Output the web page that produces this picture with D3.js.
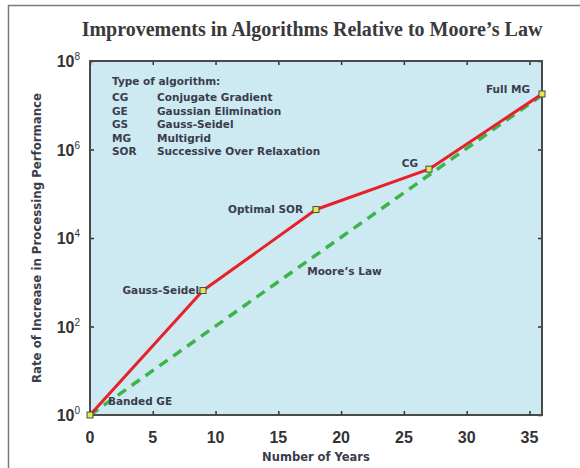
<!DOCTYPE html>
<html>
<head>
<meta charset="utf-8">
<script src="https://cdn.jsdelivr.net/npm/d3@7"></script>
<style>
  body { margin: 0; background: #fff; }
  svg { display: block; }
</style>
</head>
<body>
<div id="chart"></div>
<script>
// data
const years = [0, 9, 18, 27, 36];
const algoValues = [1, 650, 44000, 360000, 18000000];
const algoLabels = ["Banded GE", "Gauss-Seidel", "Optimal SOR", "CG", "Full MG"];
const mooreYears = [0, 36];
const mooreValues = [1, 17000000];
const xTicks = [0, 5, 10, 15, 20, 25, 30, 35];
const yTicks = [1, 1e2, 1e4, 1e6, 1e8];
const legendAbbr = ["CG", "GE", "GS", "MG", "SOR"];
const legendNames = ["Conjugate Gradient", "Gaussian Elimination", "Gauss-Seidel", "Multigrid", "Successive Over Relaxation"];

const width = 580, height = 468;
const margin = { top: 61, right: 38, bottom: 53, left: 90 };
const iw = width - margin.left - margin.right;
const ih = height - margin.top - margin.bottom;
const labelFont = "'DejaVu Sans', sans-serif";
const textCol = "#3a3d4c";

const svg = d3.select("#chart").append("svg")
  .attr("width", width)
  .attr("height", height);

// outer box of the figure
svg.append("path")
  .attr("d", "M8.5,468 L8.5,5.5 L580,5.5")
  .attr("fill", "none")
  .attr("stroke", "#7a7a7a")
  .attr("stroke-width", 1.5);

svg.append("text")
  .attr("x", 312)
  .attr("y", 36)
  .attr("text-anchor", "middle")
  .attr("font-family", "'Liberation Serif', serif")
  .attr("font-weight", "bold")
  .attr("font-size", 20)
  .attr("fill", "#3a3a3a")
  .text("Improvements in Algorithms Relative to Moore\u2019s Law");

const g = svg.append("g").attr("transform", `translate(${margin.left},${margin.top})`);

const x = d3.scaleLinear().domain([0, 36]).range([0, iw]);
const y = d3.scaleLog().domain([1, 1e8]).range([ih, 0]);

g.append("rect")
  .attr("width", iw)
  .attr("height", ih)
  .attr("fill", "#cde9f2");

// inward ticks on all four sides
const tickLen = 4;
g.append("g").attr("transform", `translate(0,${ih})`)
  .call(d3.axisBottom(x).tickValues(xTicks).tickSizeInner(-tickLen).tickSizeOuter(0).tickFormat(""));
g.append("g")
  .call(d3.axisTop(x).tickValues(xTicks).tickSizeInner(-tickLen).tickSizeOuter(0).tickFormat(""));
g.append("g")
  .call(d3.axisLeft(y).tickValues(yTicks).tickSizeInner(-tickLen).tickSizeOuter(0).tickFormat(""));
g.append("g").attr("transform", `translate(${iw},0)`)
  .call(d3.axisRight(y).tickValues(yTicks).tickSizeInner(-tickLen).tickSizeOuter(0).tickFormat(""));
g.selectAll(".domain").remove();
g.selectAll(".tick line").attr("stroke", "#333").attr("stroke-width", 1.5);

g.append("rect")
  .attr("width", iw)
  .attr("height", ih)
  .attr("fill", "none")
  .attr("stroke", "#4a4a4a")
  .attr("stroke-width", 2);

// tick labels
g.selectAll(".xlab")
  .data(xTicks)
  .enter()
  .append("text")
  .attr("x", (d) => x(d))
  .attr("y", ih + 28)
  .attr("text-anchor", "middle")
  .attr("font-family", "'Liberation Sans', Arial, sans-serif")
  .attr("font-weight", "bold")
  .attr("font-size", 16)
  .attr("fill", "#333")
  .text((d) => d);

const ylab = g.selectAll(".ylab")
  .data(yTicks)
  .enter()
  .append("text")
  .attr("x", -10)
  .attr("y", (d) => y(d) + 6)
  .attr("text-anchor", "end")
  .attr("font-family", "'Liberation Sans', Arial, sans-serif")
  .attr("font-weight", "bold")
  .attr("font-size", 16)
  .attr("fill", "#333");
ylab.append("tspan").text("10");
ylab.append("tspan")
  .attr("dy", -7)
  .attr("font-size", 10)
  .attr("font-weight", "normal")
  .text((d) => Math.round(Math.log10(d)));

// axis titles
svg.append("text")
  .attr("x", 316)
  .attr("y", 461)
  .attr("text-anchor", "middle")
  .attr("font-family", labelFont)
  .attr("font-weight", "bold")
  .attr("font-size", 11.5)
  .attr("fill", textCol)
  .text("Number of Years");

svg.append("text")
  .attr("transform", "translate(41,238) rotate(-90)")
  .attr("text-anchor", "middle")
  .attr("font-family", labelFont)
  .attr("font-weight", "bold")
  .attr("font-size", 11.5)
  .attr("textLength", 290)
  .attr("lengthAdjust", "spacingAndGlyphs")
  .attr("fill", textCol)
  .text("Rate of Increase in Processing Performance");

// legend text block
g.append("text")
  .attr("x", 22)
  .attr("y", 24)
  .attr("font-family", labelFont)
  .attr("font-weight", "bold")
  .attr("font-size", 10.5)
  .attr("fill", textCol)
  .text("Type of algorithm:");

legendAbbr.forEach((a, i) => {
  g.append("text")
    .attr("x", 22)
    .attr("y", 40 + i * 13.5)
    .attr("font-family", labelFont)
    .attr("font-weight", "bold")
    .attr("font-size", 10.5)
    .attr("fill", textCol)
    .text(a);
  g.append("text")
    .attr("x", 67)
    .attr("y", 40 + i * 13.5)
    .attr("font-family", labelFont)
    .attr("font-weight", "bold")
    .attr("font-size", 10.5)
    .attr("fill", textCol)
    .text(legendNames[i]);
});

// Moore's law, dashed
const mooreLine = d3.line()
  .x((d, i) => x(mooreYears[i]))
  .y((d) => y(d));

g.append("path")
  .attr("d", mooreLine(mooreValues))
  .attr("fill", "none")
  .attr("stroke", "#3bb54a")
  .attr("stroke-width", 3.5)
  .attr("stroke-dasharray", "10,7");

// algorithm curve
const algoLine = d3.line()
  .x((d, i) => x(years[i]))
  .y((d) => y(d));

g.append("path")
  .attr("d", algoLine(algoValues))
  .attr("fill", "none")
  .attr("stroke", "#e8202a")
  .attr("stroke-width", 3)
  .attr("stroke-linejoin", "round");

g.selectAll(".marker")
  .data(algoValues)
  .enter()
  .append("rect")
  .attr("x", (d, i) => x(years[i]) - 3)
  .attr("y", (d) => y(d) - 3)
  .attr("width", 6)
  .attr("height", 6)
  .attr("fill", "#e4e84a")
  .attr("stroke", "#4a4a4a")
  .attr("stroke-width", 1);

// point labels
const labelPos = [
  { dx: 18, dy: -10, anchor: "start" },
  { dx: -4, dy: 3, anchor: "end" },
  { dx: -13, dy: 3, anchor: "end" },
  { dx: -11, dy: -2, anchor: "end" },
  { dx: -12, dy: -1, anchor: "end" }
];
g.selectAll(".plab")
  .data(algoLabels)
  .enter()
  .append("text")
  .attr("x", (d, i) => x(years[i]) + labelPos[i].dx)
  .attr("y", (d, i) => y(algoValues[i]) + labelPos[i].dy)
  .attr("text-anchor", (d, i) => labelPos[i].anchor)
  .attr("font-family", labelFont)
  .attr("font-weight", "bold")
  .attr("font-size", 10.5)
  .attr("fill", textCol)
  .text((d) => d);

g.append("text")
  .attr("x", x(17.3))
  .attr("y", y(1450))
  .attr("font-family", labelFont)
  .attr("font-weight", "bold")
  .attr("font-size", 10.5)
  .attr("fill", textCol)
  .text("Moore\u2019s Law");
</script>
</body>
</html>
